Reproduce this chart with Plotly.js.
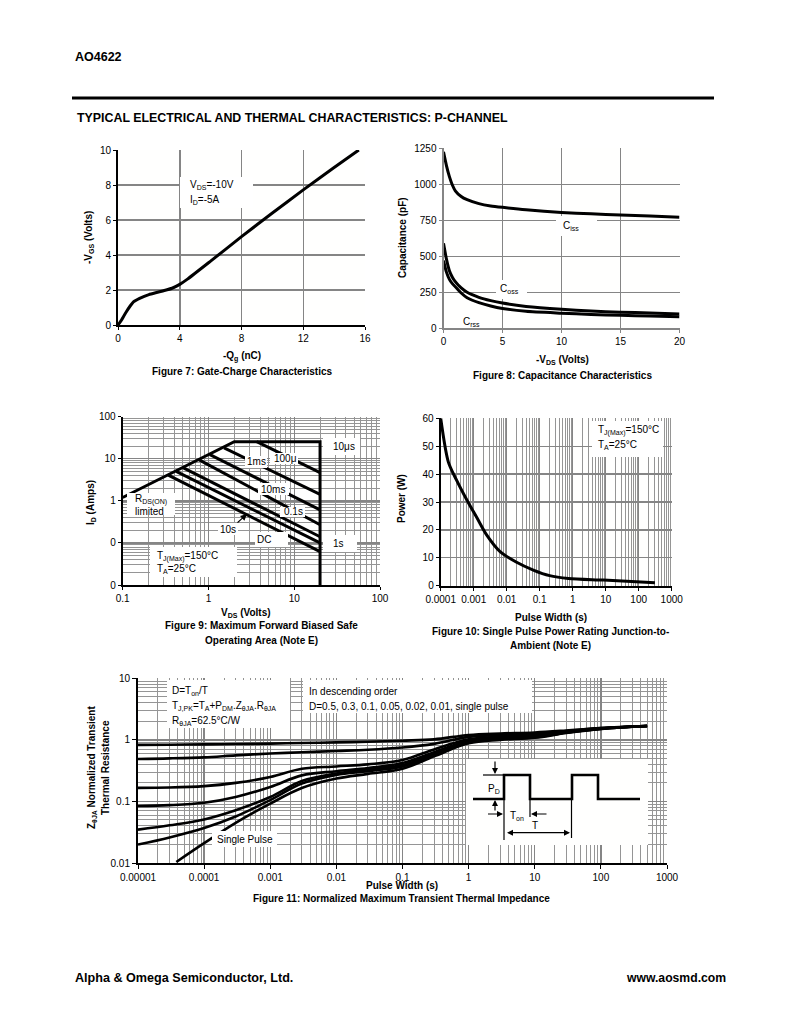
<!DOCTYPE html>
<html><head><meta charset="utf-8">
<script src="https://cdn.plot.ly/plotly-3.0.1.min.js"></script>
<style>html,body{margin:0;padding:0;background:#fff}#chart{width:800px;height:1035px}</style>
</head><body><div id="chart"></div>
<script>
// ---------- Figure 7: Gate charge ----------
const gateChargeQg  = [0, 0.2, 0.5, 0.8, 1.0, 1.4, 2.0, 2.5, 3.0, 3.5, 4.0, 4.5, 6, 8, 10, 12, 14, 15.6];
const gateChargeVgs = [0, 0.25, 0.7, 1.1, 1.32, 1.52, 1.74, 1.86, 1.97, 2.1, 2.32, 2.62, 3.65, 5.05, 6.4, 7.72, 9.0, 10.0];

// ---------- Figure 8: Capacitance ----------
const capVds  = [0, 0.25, 0.5, 0.75, 1, 1.5, 2, 3, 4, 5, 7, 10, 12.5, 15, 17.5, 20];
const capCiss = [1225, 1130, 1053, 995, 955, 915, 893, 866, 850, 840, 823, 805, 795, 787, 779, 771];
const capCoss = [590, 480, 400, 355, 324, 280, 250, 215, 192, 175, 152, 132, 120, 112, 106, 100];
const capCrss = [470, 390, 340, 310, 289, 245, 212, 178, 155, 138, 118, 105, 96, 90, 85, 81];

// ---------- Figure 9: Safe operating area ----------
const soaEnvelopeV = [0.1, 2, 20, 20];
const soaEnvelopeI = [1.2, 25.5, 25.5, 0.01];
const soaLineNames = ['100μs', '1ms', '10ms', '0.1s', '1s', '10s', 'DC'];
const soaStartV = [3.65, 1.52, 1.04, 0.78, 0.51, 0.42, 0.34];
const soaStartI = [25.5, 18.2, 12.5, 9.4, 6.1, 5.0, 4.1];
const soaEndV   = [20, 20, 20, 20, 20, 20, 20];
const soaEndI   = [4.68, 1.43, 0.61, 0.27, 0.14, 0.10, 0.062];
const soaXTickVals = [0.1, 1, 10, 100];
const soaXTickText = ['0.1', '1', '10', '100'];
const soaYTickVals = [0.01, 0.1, 1, 10, 100];
const soaYTickText = ['0', '0', '1', '10', '100'];

// ---------- Figure 10: Single pulse power ----------
const pulseWidth = [0.0001, 0.00017, 0.0003, 0.00062, 0.00123, 0.00246, 0.0063, 0.02, 0.064, 0.2, 0.74, 8.5, 310];
const pulsePower = [60, 44.4, 37.9, 30.7, 24.5, 18.2, 12.2, 8.4, 5.6, 3.6, 2.6, 2.0, 1.1];
const pwXTickVals = [0.0001, 0.001, 0.01, 0.1, 1, 10, 100, 1000];
const pwXTickText = ['0.0001', '0.001', '0.01', '0.1', '1', '10', '100', '1000'];

// ---------- Figure 11: Transient thermal impedance ----------
const thermT = [1e-5, 3e-5, 1e-4, 3e-4, 1e-3, 3e-3, 1e-2, 3e-2, 0.1, 0.3, 1, 3, 10, 30, 100, 500];
const zD05   = [0.83, 0.835, 0.845, 0.855, 0.87, 0.89, 0.91, 0.93, 0.97, 1.02, 1.2, 1.27, 1.32, 1.42, 1.56, 1.68];
const zD03   = [0.49, 0.50, 0.52, 0.56, 0.60, 0.63, 0.66, 0.69, 0.75, 0.86, 1.12, 1.2, 1.26, 1.39, 1.55, 1.68];
const zD01   = [0.166, 0.168, 0.177, 0.2, 0.25, 0.34, 0.37, 0.40, 0.47, 0.70, 1.02, 1.12, 1.2, 1.36, 1.54, 1.68];
const zD005  = [0.0845, 0.087, 0.095, 0.118, 0.172, 0.265, 0.31, 0.35, 0.42, 0.63, 0.97, 1.08, 1.15, 1.34, 1.53, 1.68];
const zD002  = [0.0348, 0.041, 0.051, 0.072, 0.118, 0.215, 0.285, 0.33, 0.39, 0.59, 0.93, 1.05, 1.12, 1.32, 1.52, 1.68];
const zD001  = [0.0199, 0.026, 0.037, 0.057, 0.105, 0.195, 0.27, 0.31, 0.37, 0.57, 0.91, 1.03, 1.1, 1.31, 1.51, 1.68];
const singlePulseT = [3.8e-5, 1e-4, 3e-4, 1e-3, 3e-3, 1e-2, 3e-2, 0.1, 0.3, 1, 3, 10, 30, 100, 500];
const singlePulseZ = [0.0104, 0.021, 0.045, 0.092, 0.165, 0.235, 0.28, 0.34, 0.54, 0.88, 1.0, 1.08, 1.29, 1.5, 1.68];
const thermXTickVals = [1e-5, 1e-4, 1e-3, 1e-2, 0.1, 1, 10, 100, 1000];
const thermXTickText = ['0.00001', '0.0001', '0.001', '0.01', '0.1', '1', '10', '100', '1000'];
const thermYTickVals = [0.01, 0.1, 1, 10];
const thermYTickText = ['0.01', '0.1', '1', '10'];

// inset duty-cycle schematic (in inset units)
const insetWaveX = [7, 38, 38, 64, 64, 106, 106, 132, 132, 174];
const insetWaveY = [40, 40, 16, 16, 40, 40, 16, 16, 40, 40];
const insetRefX = [17, 38, null, 38, 38, null, 105.5, 105.5, null, 64, 64];
const insetRefY = [16, 16, null, 40, 81, null, 40, 79, null, 40, 58];

// ---------- helpers ----------
const W = 800, H = 1035;
const FONT = 'Liberation Sans, Arial, Helvetica, sans-serif';
const fx = p => p / W;
const fy = p => 1 - p / H;

function axis(o) {
  return Object.assign({
    fixedrange: true, zeroline: false, showline: true, linecolor: '#000', linewidth: 2,
    ticks: 'outside', ticklen: 3, tickcolor: '#000', tickwidth: 1,
    tickfont: {family: FONT, size: 10, color: '#000'},
    showgrid: true, gridcolor: '#858585', gridwidth: 1.5
  }, o);
}
const minorGrid = {showgrid: true, gridcolor: '#959595', gridwidth: 1, dtick: 'D1', ticks: ''};

const annotations = [];
const shapes = [];
function txt(x, y, text, o) {
  o = o || {};
  annotations.push({
    xref: 'paper', yref: 'paper', x: fx(x), y: fy(y), text: text, showarrow: false,
    xanchor: o.xa || 'center', yanchor: o.ya || 'middle', textangle: o.angle || 0,
    font: {family: FONT, size: o.size || 10, color: '#000'}
  });
}
function whiteBox(x0, y0, x1, y1) {
  shapes.push({type: 'rect', xref: 'paper', yref: 'paper', x0: fx(x0), x1: fx(x1), y0: fy(y1), y1: fy(y0),
    fillcolor: '#ffffff', line: {width: 0}, layer: 'above'});
}

// ---------- traces ----------
const traces = [];
const blk = w => ({color: '#000', width: w});

traces.push({x: gateChargeQg, y: gateChargeVgs, xaxis: 'x', yaxis: 'y', mode: 'lines',
  line: Object.assign(blk(3), {shape: 'spline', smoothing: 0.5}), hoverinfo: 'skip'});

[capCiss, capCoss, capCrss].forEach(s => traces.push({x: capVds, y: s, xaxis: 'x2', yaxis: 'y2', mode: 'lines',
  line: Object.assign(blk(3), {shape: 'spline', smoothing: 0.6}), hoverinfo: 'skip'}));

traces.push({x: soaEnvelopeV, y: soaEnvelopeI, xaxis: 'x3', yaxis: 'y3', mode: 'lines', line: blk(3), hoverinfo: 'skip'});
soaLineNames.forEach((n, i) => traces.push({name: n, x: [soaStartV[i], soaEndV[i]], y: [soaStartI[i], soaEndI[i]],
  xaxis: 'x3', yaxis: 'y3', mode: 'lines', line: blk(3), hoverinfo: 'skip'}));

traces.push({x: pulseWidth, y: pulsePower, xaxis: 'x4', yaxis: 'y4', mode: 'lines',
  line: Object.assign(blk(3), {shape: 'spline', smoothing: 0.8}), hoverinfo: 'skip'});

[zD05, zD03, zD01, zD005, zD002, zD001].forEach(s => traces.push({x: thermT, y: s, xaxis: 'x5', yaxis: 'y5', mode: 'lines',
  line: Object.assign(blk(2.6), {shape: 'spline', smoothing: 1}), hoverinfo: 'skip'}));
traces.push({x: singlePulseT, y: singlePulseZ, xaxis: 'x5', yaxis: 'y5', mode: 'lines',
  line: Object.assign(blk(2.6), {shape: 'spline', smoothing: 1}), hoverinfo: 'skip'});

traces.push({x: insetWaveX, y: insetWaveY, xaxis: 'x6', yaxis: 'y6', mode: 'lines', line: blk(2.6), hoverinfo: 'skip'});
traces.push({x: insetRefX, y: insetRefY, xaxis: 'x6', yaxis: 'y6', mode: 'lines', line: blk(1.2), connectgaps: false, hoverinfo: 'skip'});

// ---------- text ----------
// header / footer
txt(73, 57, '<b>AO4622</b>', {xa: 'left', size: 12.5});
txt(75, 118, '<b>TYPICAL ELECTRICAL AND THERMAL CHARACTERISTICS: P-CHANNEL</b>', {xa: 'left', size: 12.4});
txt(73, 978, '<b>Alpha &amp; Omega Semiconductor, Ltd.</b>', {xa: 'left', size: 12.6});
txt(728, 978, '<b>www.aosmd.com</b>', {xa: 'right', size: 12.2});
shapes.push({type: 'line', xref: 'paper', yref: 'paper', x0: fx(72), x1: fx(714), y0: fy(98), y1: fy(98), line: {color: '#000', width: 3}});

// Fig 7
txt(89, 238, '<b>-V<sub>GS</sub> (Volts)</b>', {angle: -90});
txt(242, 357, '<b>-Q<sub>g</sub> (nC)</b>');
txt(242, 371, '<b>Figure 7: Gate-Charge Characteristics</b>');
whiteBox(180, 177, 253, 208);
txt(188, 185, 'V<sub>DS</sub>=-10V', {xa: 'left'});
txt(188, 200, 'I<sub>D</sub>=-5A', {xa: 'left'});

// Fig 8
txt(403, 238, '<b>Capacitance (pF)</b>', {angle: -90});
txt(562, 360, '<b>-V<sub>DS</sub> (Volts)</b>');
txt(562, 376, '<b>Figure 8: Capacitance Characteristics</b>');
whiteBox(556, 216, 597, 236);
txt(571, 226, 'C<sub>iss</sub>');
whiteBox(496, 280, 527, 299);
txt(510, 289, 'C<sub>oss</sub>');
txt(471, 322, 'C<sub>rss</sub>');

// Fig 9
txt(91, 503, '<b>I<sub>D</sub> (Amps)</b>', {angle: -90});
txt(246, 613, '<b>V<sub>DS</sub> (Volts)</b>');
txt(261, 625, '<b>Figure 9: Maximum Forward Biased Safe</b>');
txt(261, 640, '<b>Operating Area (Note E)</b>');
whiteBox(323, 438, 360, 455); txt(331, 446, '10μs', {xa: 'left'});
whiteBox(245, 456, 267, 468); txt(256, 462, '1ms');
whiteBox(270, 453, 298, 464); txt(285, 458, '100μ');
whiteBox(258, 483, 289, 495); txt(273, 489, '10ms');
whiteBox(280, 507, 305, 517); txt(293, 512, '0.1s');
whiteBox(218, 523, 238, 535); txt(228, 529, '10s');
whiteBox(255, 532, 288, 547); txt(264, 539, 'DC');
whiteBox(323, 535, 357, 552); txt(331, 543, '1s', {xa: 'left'});
whiteBox(127, 493, 175, 515);
txt(133, 499, 'R<sub>DS(ON)</sub>', {xa: 'left'});
txt(133, 511, 'limited', {xa: 'left'});
whiteBox(150, 547, 237, 577);
txt(155, 556, 'T<sub>J(Max)</sub>=150°C', {xa: 'left'});
txt(155, 569, 'T<sub>A</sub>=25°C', {xa: 'left'});
annotations.push({xref: 'paper', yref: 'paper', x: fx(247), y: fy(514), ax: -11, ay: 10, text: '',
  showarrow: true, arrowhead: 2, arrowsize: 1, arrowwidth: 1.3, arrowcolor: '#000'});

// Fig 10
txt(402, 498, '<b>Power (W)</b>', {angle: -90});
txt(551, 617, '<b>Pulse Width (s)</b>');
txt(550, 631, '<b>Figure 10: Single Pulse Power Rating Junction-to-</b>');
txt(550, 645, '<b>Ambient (Note E)</b>');
whiteBox(592, 421, 663, 457);
txt(596, 431, 'T<sub>J(Max)</sub>=150°C', {xa: 'left'});
txt(596, 445, 'T<sub>A</sub>=25°C', {xa: 'left'});

// Fig 11
txt(92, 768, '<b>Z<sub>θJA</sub> Normalized Transient</b>', {angle: -90});
txt(105, 768, '<b>Thermal Resistance</b>', {angle: -90});
txt(402, 885, '<b>Pulse Width (s)</b>');
txt(402, 898, '<b>Figure 11: Normalized Maximum Transient Thermal Impedance</b>');
whiteBox(167, 680, 290, 728);
txt(170, 691, 'D=T<sub>on</sub>/T', {xa: 'left'});
txt(170, 706, 'T<sub>J,PK</sub>=T<sub>A</sub>+P<sub>DM</sub>.Z<sub>θJA</sub>.R<sub>θJA</sub>', {xa: 'left'});
txt(170, 721, 'R<sub>θJA</sub>=62.5°C/W', {xa: 'left'});
whiteBox(303, 680, 532, 713);
txt(307, 691, 'In descending order', {xa: 'left'});
txt(307, 706, 'D=0.5, 0.3, 0.1, 0.05, 0.02, 0.01, single pulse', {xa: 'left'});
whiteBox(212, 831, 277, 847);
txt(215, 839, 'Single Pulse', {xa: 'left'});

// inset labels and arrows (inset units)
function insetArrow(tx, ty, hx, hy, both) {
  annotations.push({xref: 'x6', yref: 'y6', axref: 'x6', ayref: 'y6', x: hx, y: hy, ax: tx, ay: ty, text: '',
    showarrow: true, arrowhead: 2, arrowsize: 1, arrowwidth: 1.2, arrowcolor: '#000', arrowside: both ? 'end+start' : 'end'});
}
function insetText(x, y, t) {
  annotations.push({xref: 'x6', yref: 'y6', x: x, y: y, text: t, showarrow: false,
    font: {family: FONT, size: 10, color: '#000'}});
}
insetArrow(29, 1, 29, 15);
insetArrow(29, 53, 29, 41);
insetArrow(20.5, 55, 37, 55);
insetArrow(82, 55, 65, 55);
insetArrow(39.5, 73.7, 104, 73.7, true);
insetText(27.5, 29.5, 'P<sub>D</sub>');
insetText(51, 57, 'T<sub>on</sub>');
insetText(68.5, 66.5, 'T');

// ---------- layout ----------
const layout = {
  width: W, height: H, margin: {l: 0, r: 0, t: 0, b: 0},
  paper_bgcolor: '#ffffff', plot_bgcolor: '#fffffe', showlegend: false,
  font: {family: FONT, color: '#000'},
  xaxis: axis({domain: [fx(118), fx(365)], range: [0, 16], dtick: 4, tick0: 0, anchor: 'y'}),
  yaxis: axis({domain: [fy(325), fy(150)], range: [0, 10], dtick: 2, tick0: 0, anchor: 'x'}),
  xaxis2: axis({domain: [fx(443.5), fx(679.5)], range: [0, 20], dtick: 5, tick0: 0, anchor: 'y2', linecolor: '#858585', tickcolor: '#858585'}),
  yaxis2: axis({domain: [fy(328.3), fy(148.3)], range: [0, 1250], dtick: 250, tick0: 0, anchor: 'x2', linecolor: '#858585', tickcolor: '#858585'}),
  xaxis3: axis({domain: [fx(122.7), fx(380)], type: 'log', range: [-1, 2], tickmode: 'array', tickvals: soaXTickVals, ticktext: soaXTickText, anchor: 'y3', minor: minorGrid, gridwidth: 1.3}),
  yaxis3: axis({domain: [fy(585), fy(416.7)], type: 'log', range: [-2, 2], tickmode: 'array', tickvals: soaYTickVals, ticktext: soaYTickText, anchor: 'x3', minor: minorGrid, gridwidth: 1.3}),
  xaxis4: axis({domain: [fx(440.7), fx(671.7)], type: 'log', range: [-4, 3], tickmode: 'array', tickvals: pwXTickVals, ticktext: pwXTickText, anchor: 'y4', minor: minorGrid, gridwidth: 1.3}),
  yaxis4: axis({domain: [fy(585.7), fy(418.3)], range: [0, 60], dtick: 10, tick0: 0, anchor: 'x4', gridwidth: 1.3}),
  xaxis5: axis({domain: [fx(138), fx(667)], type: 'log', range: [-5, 3], tickmode: 'array', tickvals: thermXTickVals, ticktext: thermXTickText, anchor: 'y5', minor: minorGrid, gridwidth: 1.3, ticklen: 4}),
  yaxis5: axis({domain: [fy(863), fy(678.3)], type: 'log', range: [-2, 1], tickmode: 'array', tickvals: thermYTickVals, ticktext: thermYTickText, anchor: 'x5', minor: minorGrid, gridwidth: 1.3, ticklen: 4}),
  xaxis6: {domain: [fx(466), fx(648)], range: [0, 182], visible: false, fixedrange: true, anchor: 'y6'},
  yaxis6: {domain: [fy(845), fy(759)], range: [86, 0], visible: false, fixedrange: true, anchor: 'x6'},
  annotations: annotations,
  shapes: shapes
};

Plotly.newPlot('chart', traces, layout, {staticPlot: true, displayModeBar: false});
</script>
</body></html>
